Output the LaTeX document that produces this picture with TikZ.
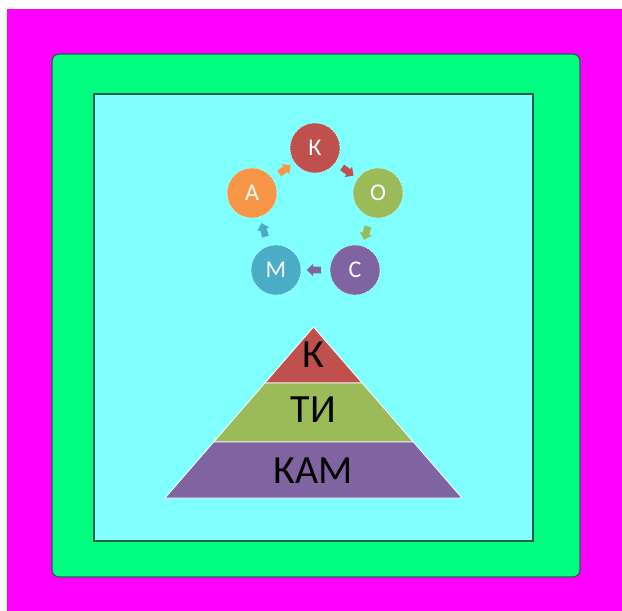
\documentclass[tikz,border=0pt]{standalone}
\usepackage{fontspec}
\setmainfont{Carlito}
\usetikzlibrary{shapes.arrows,calc}
\definecolor{bgmag}{HTML}{FF00FF}
\definecolor{frameg}{HTML}{00FF80}
\definecolor{innerc}{HTML}{80FFFF}
\definecolor{edgec}{HTML}{2E5A50}
\definecolor{cK}{HTML}{C0504D}
\definecolor{cO}{HTML}{9BBB59}
\definecolor{cC}{HTML}{8064A2}
\definecolor{cM}{HTML}{4BACC6}
\definecolor{cA}{HTML}{F79646}
\tikzset{
  cyc/.style={circle, minimum size=50pt, inner sep=0pt, draw=white!60!innerc, dash pattern=on 1.5pt off 1pt, line width=0.5pt, text=white, font=\fontsize{24}{24}\selectfont},
  cycarrow/.style={single arrow, minimum height=14pt, minimum width=12pt, inner sep=3.2pt, single arrow head extend=3pt, sloped, allow upside down, midway, draw=none},
  layer/.style={draw=white, line width=0.8pt},
  ptext/.style={font=\fontsize{40}{40}\selectfont, text=black, inner sep=0pt}
}
\begin{document}
\begin{tikzpicture}[x=1pt,y=-1pt]
\fill[white] (0,0) rectangle (622,611);
\useasboundingbox (0,0) rectangle (622,611);
\fill[bgmag] (7,9) rectangle (622,611);
\draw[fill=frameg, draw=edgec, line width=1.2pt, rounded corners=7pt] (52,54) rectangle (580,577);
\draw[fill=innerc, draw=edgec, line width=1.2pt] (94,94) rectangle (533,541);
% cycle
\node[cyc, fill=cK] (K) at (315,148) {К};
\node[cyc, fill=cO] (O) at (378,193) {О};
\node[cyc, fill=cC] (C) at (355,270) {С};
\node[cyc, fill=cM] (M) at (276,270) {М};
\node[cyc, fill=cA] (A) at (252,193) {А};
\path (K) -- node[cycarrow, fill=cK] {} (O);
\path (O) -- node[cycarrow, fill=cO] {} (C);
\path (C) -- node[cycarrow, fill=cC] {} (M);
\path (M) -- node[cycarrow, fill=cM] {} (A);
\path (A) -- node[cycarrow, fill=cA] {} (K);
% pyramid
\coordinate (ap) at (313.5,327);
\coordinate (bl) at (165,498);
\coordinate (br) at (462,498);
\coordinate (l1) at ($(ap)!0.3275!(bl)$);
\coordinate (r1) at ($(ap)!0.3275!(br)$);
\coordinate (l2) at ($(ap)!0.6725!(bl)$);
\coordinate (r2) at ($(ap)!0.6725!(br)$);
\filldraw[layer, fill=cK] (ap) -- (l1) -- (r1) -- cycle;
\filldraw[layer, fill=cO] (l1) -- (l2) -- (r2) -- (r1) -- cycle;
\filldraw[layer, fill=cC] (l2) -- (bl) -- (br) -- (r2) -- cycle;
\node[ptext] (t1) at (313.5,355) {К};
\node[ptext] (t2) at (313.5,410) {ТИ};
\node[ptext] (t3) at (313.5,471) {КАМ};
\end{tikzpicture}
\end{document}
